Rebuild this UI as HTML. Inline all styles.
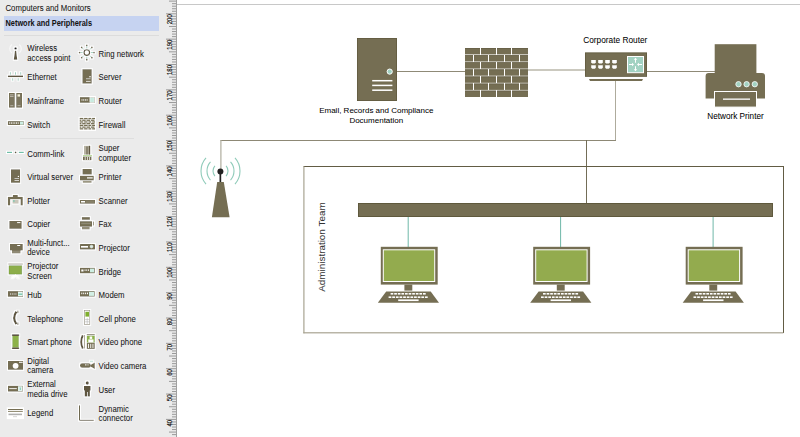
<!DOCTYPE html>
<html><head><meta charset="utf-8"><style>
html,body{margin:0;padding:0;width:800px;height:437px;overflow:hidden;background:#fff}
svg{display:block;font-family:"Liberation Sans",sans-serif}
</style></head><body>
<svg width="800" height="437" viewBox="0 0 800 437">
<defs><filter id="halo" x="-5%" y="-5%" width="110%" height="110%"><feMorphology in="SourceAlpha" operator="dilate" radius="0.9" result="d"/><feFlood flood-color="#ffffff"/><feComposite in2="d" operator="in" result="w"/><feMerge><feMergeNode in="w"/><feMergeNode in="SourceGraphic"/></feMerge></filter></defs>
<rect x="0" y="0" width="166" height="437" fill="#ebebeb"/>
<rect x="4" y="16" width="155" height="15" fill="#c6d3f1"/>
<rect x="4" y="35" width="155" height="1" fill="#dcdcdc"/>
<rect x="20" y="138" width="114" height="1" fill="#dedede"/>
<text transform="translate(5.5,11.4) scale(0.885,1)" font-size="8.8" fill="#141414" stroke="#141414" stroke-width="0.04" font-weight="normal">Computers and Monitors</text>
<text transform="translate(5.5,26.2) scale(0.84,1)" font-size="8.8" fill="#141414" stroke="#141414" stroke-width="0.04" font-weight="bold">Network and Peripherals</text>
<text transform="translate(27.3,51.2) scale(0.885,1)" font-size="8.8" fill="#141414" stroke="#141414" stroke-width="0.04" font-weight="normal">Wireless</text><text transform="translate(27.3,60.6) scale(0.885,1)" font-size="8.8" fill="#141414" stroke="#141414" stroke-width="0.04" font-weight="normal">access point</text>
<text transform="translate(98.6,56.5) scale(0.885,1)" font-size="8.8" fill="#141414" stroke="#141414" stroke-width="0.04" font-weight="normal">Ring network</text>
<text transform="translate(27.3,80.4) scale(0.885,1)" font-size="8.8" fill="#141414" stroke="#141414" stroke-width="0.04" font-weight="normal">Ethernet</text>
<text transform="translate(98.6,80.4) scale(0.885,1)" font-size="8.8" fill="#141414" stroke="#141414" stroke-width="0.04" font-weight="normal">Server</text>
<text transform="translate(27.3,104.2) scale(0.885,1)" font-size="8.8" fill="#141414" stroke="#141414" stroke-width="0.04" font-weight="normal">Mainframe</text>
<text transform="translate(98.6,104.2) scale(0.885,1)" font-size="8.8" fill="#141414" stroke="#141414" stroke-width="0.04" font-weight="normal">Router</text>
<text transform="translate(27.3,127.6) scale(0.885,1)" font-size="8.8" fill="#141414" stroke="#141414" stroke-width="0.04" font-weight="normal">Switch</text>
<text transform="translate(98.6,127.6) scale(0.885,1)" font-size="8.8" fill="#141414" stroke="#141414" stroke-width="0.04" font-weight="normal">Firewall</text>
<text transform="translate(27.3,156.6) scale(0.885,1)" font-size="8.8" fill="#141414" stroke="#141414" stroke-width="0.04" font-weight="normal">Comm-link</text>
<text transform="translate(98.6,151.3) scale(0.885,1)" font-size="8.8" fill="#141414" stroke="#141414" stroke-width="0.04" font-weight="normal">Super</text><text transform="translate(98.6,160.7) scale(0.885,1)" font-size="8.8" fill="#141414" stroke="#141414" stroke-width="0.04" font-weight="normal">computer</text>
<text transform="translate(27.3,180.2) scale(0.885,1)" font-size="8.8" fill="#141414" stroke="#141414" stroke-width="0.04" font-weight="normal">Virtual server</text>
<text transform="translate(98.6,180.2) scale(0.885,1)" font-size="8.8" fill="#141414" stroke="#141414" stroke-width="0.04" font-weight="normal">Printer</text>
<text transform="translate(27.3,203.8) scale(0.885,1)" font-size="8.8" fill="#141414" stroke="#141414" stroke-width="0.04" font-weight="normal">Plotter</text>
<text transform="translate(98.6,203.8) scale(0.885,1)" font-size="8.8" fill="#141414" stroke="#141414" stroke-width="0.04" font-weight="normal">Scanner</text>
<text transform="translate(27.3,227.4) scale(0.885,1)" font-size="8.8" fill="#141414" stroke="#141414" stroke-width="0.04" font-weight="normal">Copier</text>
<text transform="translate(98.6,227.4) scale(0.885,1)" font-size="8.8" fill="#141414" stroke="#141414" stroke-width="0.04" font-weight="normal">Fax</text>
<text transform="translate(27.3,245.8) scale(0.885,1)" font-size="8.8" fill="#141414" stroke="#141414" stroke-width="0.04" font-weight="normal">Multi-funct...</text><text transform="translate(27.3,255.1) scale(0.885,1)" font-size="8.8" fill="#141414" stroke="#141414" stroke-width="0.04" font-weight="normal">device</text>
<text transform="translate(98.6,251.0) scale(0.885,1)" font-size="8.8" fill="#141414" stroke="#141414" stroke-width="0.04" font-weight="normal">Projector</text>
<text transform="translate(27.3,269.3) scale(0.885,1)" font-size="8.8" fill="#141414" stroke="#141414" stroke-width="0.04" font-weight="normal">Projector</text><text transform="translate(27.3,278.7) scale(0.885,1)" font-size="8.8" fill="#141414" stroke="#141414" stroke-width="0.04" font-weight="normal">Screen</text>
<text transform="translate(98.6,274.6) scale(0.885,1)" font-size="8.8" fill="#141414" stroke="#141414" stroke-width="0.04" font-weight="normal">Bridge</text>
<text transform="translate(27.3,298.2) scale(0.885,1)" font-size="8.8" fill="#141414" stroke="#141414" stroke-width="0.04" font-weight="normal">Hub</text>
<text transform="translate(98.6,298.2) scale(0.885,1)" font-size="8.8" fill="#141414" stroke="#141414" stroke-width="0.04" font-weight="normal">Modem</text>
<text transform="translate(27.3,321.8) scale(0.885,1)" font-size="8.8" fill="#141414" stroke="#141414" stroke-width="0.04" font-weight="normal">Telephone</text>
<text transform="translate(98.6,321.8) scale(0.885,1)" font-size="8.8" fill="#141414" stroke="#141414" stroke-width="0.04" font-weight="normal">Cell phone</text>
<text transform="translate(27.3,345.4) scale(0.885,1)" font-size="8.8" fill="#141414" stroke="#141414" stroke-width="0.04" font-weight="normal">Smart phone</text>
<text transform="translate(98.6,345.4) scale(0.885,1)" font-size="8.8" fill="#141414" stroke="#141414" stroke-width="0.04" font-weight="normal">Video phone</text>
<text transform="translate(27.3,363.8) scale(0.885,1)" font-size="8.8" fill="#141414" stroke="#141414" stroke-width="0.04" font-weight="normal">Digital</text><text transform="translate(27.3,373.1) scale(0.885,1)" font-size="8.8" fill="#141414" stroke="#141414" stroke-width="0.04" font-weight="normal">camera</text>
<text transform="translate(98.6,369.0) scale(0.885,1)" font-size="8.8" fill="#141414" stroke="#141414" stroke-width="0.04" font-weight="normal">Video camera</text>
<text transform="translate(27.3,387.3) scale(0.885,1)" font-size="8.8" fill="#141414" stroke="#141414" stroke-width="0.04" font-weight="normal">External</text><text transform="translate(27.3,396.7) scale(0.885,1)" font-size="8.8" fill="#141414" stroke="#141414" stroke-width="0.04" font-weight="normal">media drive</text>
<text transform="translate(98.6,392.6) scale(0.885,1)" font-size="8.8" fill="#141414" stroke="#141414" stroke-width="0.04" font-weight="normal">User</text>
<text transform="translate(27.3,416.2) scale(0.885,1)" font-size="8.8" fill="#141414" stroke="#141414" stroke-width="0.04" font-weight="normal">Legend</text>
<text transform="translate(98.6,411.8) scale(0.885,1)" font-size="8.8" fill="#141414" stroke="#141414" stroke-width="0.04" font-weight="normal">Dynamic</text><text transform="translate(98.6,420.8) scale(0.885,1)" font-size="8.8" fill="#141414" stroke="#141414" stroke-width="0.04" font-weight="normal">connector</text>
<path d="M11.8 53 A5.5 5.5 0 0 1 11.8 44.5 M19.3 44.5 A5.5 5.5 0 0 1 19.3 53" stroke="#f8f8f8" stroke-width="1.2" fill="none"/><g filter="url(#halo)"><path d="M14.9 50.8 H16.2 L17.3 59.8 H13.8 Z" fill="#5e573f"/>
<circle cx="15.56" cy="48.4" r="1.2" fill="#1e1e1e"/>
<path d="M91.00 52.55 L93.10 52.55" stroke="#a2d2c2" stroke-width="1"/>
<circle cx="94.00" cy="52.55" r="0.9" fill="#756e53"/>
<path d="M89.77 55.52 L91.25 57.00" stroke="#a2d2c2" stroke-width="1"/>
<circle cx="91.89" cy="57.64" r="0.9" fill="#756e53"/>
<path d="M86.80 56.75 L86.80 58.85" stroke="#a2d2c2" stroke-width="1"/>
<circle cx="86.80" cy="59.75" r="0.9" fill="#756e53"/>
<path d="M83.83 55.52 L82.35 57.00" stroke="#a2d2c2" stroke-width="1"/>
<circle cx="81.71" cy="57.64" r="0.9" fill="#756e53"/>
<path d="M82.60 52.55 L80.50 52.55" stroke="#a2d2c2" stroke-width="1"/>
<circle cx="79.60" cy="52.55" r="0.9" fill="#756e53"/>
<path d="M83.83 49.58 L82.35 48.10" stroke="#a2d2c2" stroke-width="1"/>
<circle cx="81.71" cy="47.46" r="0.9" fill="#756e53"/>
<path d="M86.80 48.35 L86.80 46.25" stroke="#a2d2c2" stroke-width="1"/>
<circle cx="86.80" cy="45.35" r="0.9" fill="#756e53"/>
<path d="M89.77 49.58 L91.25 48.10" stroke="#a2d2c2" stroke-width="1"/>
<circle cx="91.89" cy="47.46" r="0.9" fill="#756e53"/>
<circle cx="86.8" cy="52.55" r="2.8" fill="#fff" stroke="#5e573f" stroke-width="1.2"/>
<rect x="7.9" y="75.5" width="15.1" height="1.6" fill="#5e573f"/>
<rect x="9.9" y="72.2" width="1" height="2.5" fill="#a2d2c2"/>
<rect x="15.0" y="72.2" width="1" height="2.5" fill="#a2d2c2"/>
<rect x="20.2" y="72.2" width="1" height="2.5" fill="#a2d2c2"/>
<rect x="12.2" y="78.2" width="1" height="2.5" fill="#a2d2c2"/>
<rect x="17.7" y="78.2" width="1" height="2.5" fill="#a2d2c2"/>
<rect x="82.4" y="69.2" width="9.35" height="14.4" fill="#756e53"/>
<circle cx="90" cy="76.7" r="0.8" fill="#fff"/>
<rect x="86" y="78.4" width="4.6" height="0.8" fill="#ddd"/>
<rect x="86" y="80.9" width="4.6" height="0.8" fill="#fff"/>
<rect x="9" y="93" width="5.8" height="14.7" fill="#756e53"/>
<rect x="9.8" y="94" width="4.2" height="12.7" fill="#7c7660"/>
<rect x="10.3" y="105" width="3" height="1.2" fill="#aaa69a"/>
<rect x="16.2" y="93" width="5.8" height="14.7" fill="#756e53"/>
<rect x="17.0" y="94" width="4.2" height="12.7" fill="#7c7660"/>
<rect x="17.5" y="105" width="3" height="1.2" fill="#aaa69a"/>
<rect x="10" y="94.5" width="3.5" height="0.8" fill="#c8c4b8"/>
<rect x="10" y="96" width="3.5" height="0.8" fill="#c8c4b8"/>
<rect x="17.5" y="94.3" width="2.5" height="2.3" fill="#f4f0d8"/>
<rect x="79.9" y="97.1" width="14.8" height="5.7" fill="#756e53"/>
<rect x="89.9" y="97.6" width="4.3" height="4.7" fill="#c8ebe0" stroke="#fff" stroke-width="0.6"/>
<rect x="81.5" y="99.3" width="1" height="1.3" fill="#fff"/>
<rect x="83.2" y="99.3" width="1" height="1.3" fill="#fff"/>
<rect x="84.9" y="99.3" width="1" height="1.3" fill="#fff"/>
<rect x="86.6" y="99.3" width="1" height="1.3" fill="#fff"/>
<rect x="7.9" y="121.1" width="15.8" height="3.9" fill="#756e53"/>
<rect x="20" y="121.5" width="3.3" height="3.2" fill="#cdeee3"/>
<rect x="9.2" y="122.4" width="1" height="1.3" fill="#fff"/>
<rect x="10.9" y="122.4" width="1" height="1.3" fill="#fff"/>
<rect x="12.6" y="122.4" width="1" height="1.3" fill="#fff"/>
<rect x="14.3" y="122.4" width="1" height="1.3" fill="#fff"/>
<rect x="16" y="122.4" width="1" height="1.3" fill="#fff"/>
<rect x="17.7" y="122.4" width="1" height="1.3" fill="#fff"/>
<rect x="79.7" y="117.9" width="15.3" height="11.9" fill="#fff"/>
<rect x="79.7" y="117.90" width="3.60" height="1.25" fill="#756e53"/>
<rect x="84.1" y="117.90" width="3.50" height="1.25" fill="#756e53"/>
<rect x="88.4" y="117.90" width="2.90" height="1.25" fill="#756e53"/>
<rect x="92.1" y="117.90" width="2.90" height="1.25" fill="#756e53"/>
<rect x="79.7" y="119.62" width="1.70" height="1.25" fill="#756e53"/>
<rect x="82.2" y="119.62" width="3.50" height="1.25" fill="#756e53"/>
<rect x="86.5" y="119.62" width="3.50" height="1.25" fill="#756e53"/>
<rect x="90.8" y="119.62" width="3.20" height="1.25" fill="#756e53"/>
<rect x="94.5" y="119.62" width="0.50" height="1.25" fill="#756e53"/>
<rect x="79.7" y="121.34" width="3.60" height="1.25" fill="#756e53"/>
<rect x="84.1" y="121.34" width="3.50" height="1.25" fill="#756e53"/>
<rect x="88.4" y="121.34" width="2.90" height="1.25" fill="#756e53"/>
<rect x="92.1" y="121.34" width="2.90" height="1.25" fill="#756e53"/>
<rect x="79.7" y="123.06" width="1.70" height="1.25" fill="#756e53"/>
<rect x="82.2" y="123.06" width="3.50" height="1.25" fill="#756e53"/>
<rect x="86.5" y="123.06" width="3.50" height="1.25" fill="#756e53"/>
<rect x="90.8" y="123.06" width="3.20" height="1.25" fill="#756e53"/>
<rect x="94.5" y="123.06" width="0.50" height="1.25" fill="#756e53"/>
<rect x="79.7" y="124.78" width="3.60" height="1.25" fill="#756e53"/>
<rect x="84.1" y="124.78" width="3.50" height="1.25" fill="#756e53"/>
<rect x="88.4" y="124.78" width="2.90" height="1.25" fill="#756e53"/>
<rect x="92.1" y="124.78" width="2.90" height="1.25" fill="#756e53"/>
<rect x="79.7" y="126.50" width="1.70" height="1.25" fill="#756e53"/>
<rect x="82.2" y="126.50" width="3.50" height="1.25" fill="#756e53"/>
<rect x="86.5" y="126.50" width="3.50" height="1.25" fill="#756e53"/>
<rect x="90.8" y="126.50" width="3.20" height="1.25" fill="#756e53"/>
<rect x="94.5" y="126.50" width="0.50" height="1.25" fill="#756e53"/>
<rect x="79.7" y="128.22" width="3.60" height="1.25" fill="#756e53"/>
<rect x="84.1" y="128.22" width="3.50" height="1.25" fill="#756e53"/>
<rect x="88.4" y="128.22" width="2.90" height="1.25" fill="#756e53"/>
<rect x="92.1" y="128.22" width="2.90" height="1.25" fill="#756e53"/>
<path d="M7 152.4 H12 M18.8 152.4 H23.8" stroke="#6fbfa8" stroke-width="1.1"/>
<circle cx="15.6" cy="152.4" r="0.9" fill="#5e573f"/>
<rect x="84" y="145.8" width="6.3" height="8.8" fill="#b8b4a4"/>
<rect x="86.5" y="146.5" width="1" height="8" fill="#5e573f"/>
<rect x="88.8" y="145.8" width="1.3" height="8.8" fill="#5e573f"/>
<rect x="83" y="155.3" width="9" height="1" fill="#9ccf60"/>
<rect x="83" y="156.6" width="8.5" height="3.6" fill="#756e53"/>
<rect x="84.8" y="156.8" width="0.7" height="3.4" fill="#fff"/>
<rect x="87" y="156.8" width="0.7" height="3.4" fill="#fff"/>
<rect x="89.2" y="156.8" width="0.7" height="3.4" fill="#fff"/>
<rect x="11" y="169.3" width="9.1" height="13.5" fill="#756e53"/>
<circle cx="18.4" cy="176.4" r="0.7" fill="#fff"/>
<rect x="14.5" y="178" width="4.5" height="0.8" fill="#ddd"/>
<rect x="14.5" y="180.1" width="4.5" height="0.8" fill="#eee"/>
<rect x="82.5" y="169" width="9.3" height="5.5" fill="#756e53"/>
<rect x="80" y="175.8" width="13.8" height="4.6" fill="#756e53"/>
<rect x="87" y="177.3" width="5.7" height="1.2" fill="#fff"/>
<rect x="82.8" y="180.8" width="8.8" height="2" fill="#9c9782"/>
<rect x="12.9" y="195" width="4.9" height="2" fill="#756e53"/>
<rect x="7.9" y="196.9" width="14.9" height="2.3" fill="#756e53"/>
<rect x="7.9" y="199" width="2.3" height="6.4" fill="#756e53"/>
<rect x="20.6" y="199" width="2.2" height="6.4" fill="#756e53"/>
<rect x="12.5" y="199.8" width="6.1" height="3.8" fill="#c9c6ba"/>
<rect x="13.2" y="200.3" width="1.4" height="1.4" fill="#6ec8b0"/>
<rect x="79.9" y="200" width="15.1" height="3.7" fill="#756e53"/>
<rect x="81" y="201" width="4" height="1.5" fill="#fff"/>
<rect x="85.5" y="200.5" width="9" height="2.7" fill="#857f68"/>
<rect x="9.3" y="221" width="12.4" height="7.8" fill="#756e53"/>
<rect x="17.1" y="222.1" width="3.3" height="1" fill="#fff"/>
<rect x="81.9" y="217.1" width="8" height="2.7" fill="#756e53"/>
<rect x="79.9" y="221.2" width="12.1" height="5.5" fill="#756e53"/>
<rect x="81.2" y="222.8" width="9.6" height="1.4" fill="#8f8a74"/>
<rect x="82" y="226.7" width="7.7" height="2.7" fill="#938e78"/>
<rect x="93" y="221.5" width="0.9" height="4" fill="#8f8a74"/>
<rect x="10" y="244" width="12.8" height="6.4" fill="#756e53"/>
<rect x="17.2" y="245" width="3" height="1" fill="#fff"/>
<rect x="12" y="250.2" width="8.5" height="3.2" fill="#8f8a74"/>
<rect x="12" y="250.2" width="8.5" height="0.8" fill="#756e53"/>
<rect x="79.9" y="243.9" width="15.1" height="5.7" rx="0.6" fill="#756e53"/>
<rect x="81" y="246" width="7" height="1.6" fill="#fff"/>
<circle cx="91.5" cy="246.6" r="1.4" fill="#d6f0e8" stroke="#fff" stroke-width="0.5"/>
<rect x="8.3" y="263.3" width="14.5" height="1.5" fill="#c7c5bb"/>
<rect x="9" y="265.8" width="12.8" height="8.3" fill="#8dae4c" stroke="#6f9a2a" stroke-width="0.6"/>
<path d="M15.4 274.5 L12 278.5 M15.4 274.5 L18.8 278.5" stroke="#fff" stroke-width="1"/>
<rect x="80" y="267.8" width="14.8" height="5.5" fill="#756e53"/>
<rect x="90" y="268.6" width="4" height="3.8" fill="#cdeee3"/>
<rect x="81.3" y="269.5" width="2.2" height="2" fill="#fff"/>
<rect x="84.6" y="269.4" width="0.9" height="1.5" fill="#fff"/>
<rect x="86.3" y="269.4" width="0.9" height="1.5" fill="#fff"/>
<rect x="88" y="269.4" width="0.9" height="1.5" fill="#fff"/>
<rect x="7.9" y="291.1" width="15.1" height="5.7" fill="#756e53"/>
<rect x="18" y="291.6" width="4.8" height="4.7" fill="#e8f6f1"/>
<rect x="18.5" y="293.5" width="3.8" height="1.4" fill="#7cc9b2"/>
<rect x="10" y="293.4" width="1" height="1.2" fill="#ddd"/>
<rect x="11.8" y="293.4" width="1" height="1.2" fill="#ddd"/>
<rect x="13.6" y="293.4" width="1" height="1.2" fill="#ddd"/>
<rect x="15.4" y="293.4" width="1" height="1.2" fill="#ddd"/>
<rect x="79.9" y="291.1" width="14.8" height="5.5" fill="#756e53"/>
<rect x="89" y="291.8" width="5" height="4.1" fill="#d3f0e6"/>
<rect x="81.3" y="292.6" width="1" height="1.6" fill="#fff"/>
<rect x="83.2" y="292.6" width="1" height="1.6" fill="#fff"/>
<rect x="85.1" y="292.6" width="1" height="1.6" fill="#fff"/>
<rect x="87" y="292.6" width="1" height="1.6" fill="#fff"/>
<path d="M16.4 311.6 Q12 317.8 16.4 324.2" stroke="#5e573f" stroke-width="2.3" fill="none"/>
<rect x="17.2" y="310.6" width="1.3" height="2.6" fill="#9a9585"/>
<rect x="17.2" y="322.5" width="1.3" height="2.4" fill="#9a9585"/>
<rect x="84.6" y="310.6" width="5.2" height="14" fill="#fff" stroke="#9a9585" stroke-width="0.7"/>
<rect x="85.4" y="311.8" width="3.6" height="4.8" fill="#7fae2e"/>
<path d="M85 319.6 H89.4 M85 321.8 H89.4 M87.2 318 V324" stroke="#aaa" stroke-width="0.5"/>
<rect x="11.8" y="334.3" width="7.5" height="1.7" rx="0.8" fill="#5e573f"/>
<rect x="12.3" y="336" width="6.5" height="11.8" fill="#8db24a"/>
<rect x="11.8" y="347.5" width="7.5" height="1.6" rx="0.8" fill="#5e573f"/>
<path d="M82.8 335.2 Q79.6 341.8 82.8 348.6" stroke="#5e573f" stroke-width="2" fill="none"/>
<rect x="84" y="335" width="1" height="13.5" fill="#b0ac9c"/>
<rect x="86.8" y="334.2" width="8" height="0.9" fill="#756e53"/>
<rect x="86.8" y="335.6" width="8" height="7" fill="#8db24a"/>
<rect x="89.6" y="336.5" width="2.6" height="2.4" fill="#fff"/>
<rect x="88.3" y="339.4" width="5.2" height="3.2" fill="#fff"/>
<rect x="86.8" y="342.8" width="8" height="6.1" fill="#756e53"/>
<rect x="88.1" y="343.8" width="0.9" height="4.2" fill="#fff"/>
<rect x="90.3" y="343.8" width="0.9" height="4.2" fill="#fff"/>
<rect x="92.5" y="343.8" width="0.9" height="4.2" fill="#fff"/>
<rect x="8" y="361" width="15.1" height="8.8" fill="#756e53"/>
<circle cx="15.6" cy="365.8" r="2.9" fill="#fff"/>
<rect x="19" y="361.8" width="3.7" height="1" fill="#fff"/>
<rect x="80" y="363.3" width="10.8" height="4.5" rx="2" fill="#756e53"/>
<path d="M90.4 365 L94.8 362.6 V369 L90.4 366.5 Z" fill="#756e53"/>
<rect x="85" y="364.4" width="1.5" height="1" fill="#fff"/>
<rect x="87.5" y="364.4" width="1" height="1" fill="#fff"/>
<rect x="90" y="360.8" width="3" height="1" fill="#bfe3d8"/>
<rect x="8" y="385.8" width="14.8" height="5.8" fill="#756e53"/>
<rect x="18" y="386.2" width="4.5" height="5" fill="#e3f3ee"/>
<rect x="19.8" y="387.5" width="1" height="2.5" fill="#7cc9b2"/>
<rect x="9.2" y="388.2" width="7.6" height="0.9" fill="#fff"/>
<ellipse cx="87.3" cy="383" rx="1.6" ry="1.8" fill="#5e573f"/>
<path d="M84 386 H90.6 V390.5 H89.9 V396.6 H87.6 V392 H87 V396.6 H84.7 V390.5 H84 Z" fill="#5e573f"/>
<rect x="7.8" y="408.3" width="15.2" height="9.8" fill="#fff"/>
<rect x="8" y="409" width="14.8" height="1" fill="#756e53"/>
<rect x="8" y="410.9" width="14.8" height="1" fill="#8a846a"/>
<rect x="8.5" y="413.6" width="13.5" height="1.6" fill="#b0b0b0"/>
<rect x="13" y="416.5" width="4" height="0.6" fill="#bbb"/>
<path d="M79.5 405.3 V420.3 H93.8" stroke="#6e6850" stroke-width="1" fill="none"/></g>
<rect x="166" y="0" width="11" height="437" fill="#ebebeb"/>
<rect x="176" y="0" width="1" height="437" fill="#a0a0a0"/>
<rect x="169" y="0.62" width="7" height="1" fill="#9a9a9a"/>
<rect x="172" y="3.16" width="4" height="1" fill="#9a9a9a"/>
<rect x="172" y="5.70" width="4" height="1" fill="#9a9a9a"/>
<rect x="172" y="8.23" width="4" height="1" fill="#9a9a9a"/>
<rect x="172" y="10.77" width="4" height="1" fill="#9a9a9a"/>
<rect x="166" y="13.30" width="10" height="1" fill="#9a9a9a"/>
<rect x="172" y="15.84" width="4" height="1" fill="#9a9a9a"/>
<rect x="172" y="18.37" width="4" height="1" fill="#9a9a9a"/>
<rect x="172" y="20.91" width="4" height="1" fill="#9a9a9a"/>
<rect x="172" y="23.44" width="4" height="1" fill="#9a9a9a"/>
<rect x="169" y="25.98" width="7" height="1" fill="#9a9a9a"/>
<rect x="172" y="28.51" width="4" height="1" fill="#9a9a9a"/>
<rect x="172" y="31.05" width="4" height="1" fill="#9a9a9a"/>
<rect x="172" y="33.58" width="4" height="1" fill="#9a9a9a"/>
<rect x="172" y="36.12" width="4" height="1" fill="#9a9a9a"/>
<rect x="166" y="38.65" width="10" height="1" fill="#9a9a9a"/>
<rect x="172" y="41.19" width="4" height="1" fill="#9a9a9a"/>
<rect x="172" y="43.72" width="4" height="1" fill="#9a9a9a"/>
<rect x="172" y="46.25" width="4" height="1" fill="#9a9a9a"/>
<rect x="172" y="48.79" width="4" height="1" fill="#9a9a9a"/>
<rect x="169" y="51.33" width="7" height="1" fill="#9a9a9a"/>
<rect x="172" y="53.86" width="4" height="1" fill="#9a9a9a"/>
<rect x="172" y="56.39" width="4" height="1" fill="#9a9a9a"/>
<rect x="172" y="58.93" width="4" height="1" fill="#9a9a9a"/>
<rect x="172" y="61.47" width="4" height="1" fill="#9a9a9a"/>
<rect x="166" y="64.00" width="10" height="1" fill="#9a9a9a"/>
<rect x="172" y="66.53" width="4" height="1" fill="#9a9a9a"/>
<rect x="172" y="69.07" width="4" height="1" fill="#9a9a9a"/>
<rect x="172" y="71.61" width="4" height="1" fill="#9a9a9a"/>
<rect x="172" y="74.14" width="4" height="1" fill="#9a9a9a"/>
<rect x="169" y="76.67" width="7" height="1" fill="#9a9a9a"/>
<rect x="172" y="79.21" width="4" height="1" fill="#9a9a9a"/>
<rect x="172" y="81.75" width="4" height="1" fill="#9a9a9a"/>
<rect x="172" y="84.28" width="4" height="1" fill="#9a9a9a"/>
<rect x="172" y="86.81" width="4" height="1" fill="#9a9a9a"/>
<rect x="166" y="89.35" width="10" height="1" fill="#9a9a9a"/>
<rect x="172" y="91.89" width="4" height="1" fill="#9a9a9a"/>
<rect x="172" y="94.42" width="4" height="1" fill="#9a9a9a"/>
<rect x="172" y="96.95" width="4" height="1" fill="#9a9a9a"/>
<rect x="172" y="99.49" width="4" height="1" fill="#9a9a9a"/>
<rect x="169" y="102.03" width="7" height="1" fill="#9a9a9a"/>
<rect x="172" y="104.56" width="4" height="1" fill="#9a9a9a"/>
<rect x="172" y="107.09" width="4" height="1" fill="#9a9a9a"/>
<rect x="172" y="109.63" width="4" height="1" fill="#9a9a9a"/>
<rect x="172" y="112.17" width="4" height="1" fill="#9a9a9a"/>
<rect x="166" y="114.70" width="10" height="1" fill="#9a9a9a"/>
<rect x="172" y="117.23" width="4" height="1" fill="#9a9a9a"/>
<rect x="172" y="119.77" width="4" height="1" fill="#9a9a9a"/>
<rect x="172" y="122.31" width="4" height="1" fill="#9a9a9a"/>
<rect x="172" y="124.84" width="4" height="1" fill="#9a9a9a"/>
<rect x="169" y="127.38" width="7" height="1" fill="#9a9a9a"/>
<rect x="172" y="129.91" width="4" height="1" fill="#9a9a9a"/>
<rect x="172" y="132.45" width="4" height="1" fill="#9a9a9a"/>
<rect x="172" y="134.98" width="4" height="1" fill="#9a9a9a"/>
<rect x="172" y="137.52" width="4" height="1" fill="#9a9a9a"/>
<rect x="166" y="140.05" width="10" height="1" fill="#9a9a9a"/>
<rect x="172" y="142.59" width="4" height="1" fill="#9a9a9a"/>
<rect x="172" y="145.12" width="4" height="1" fill="#9a9a9a"/>
<rect x="172" y="147.66" width="4" height="1" fill="#9a9a9a"/>
<rect x="172" y="150.19" width="4" height="1" fill="#9a9a9a"/>
<rect x="169" y="152.73" width="7" height="1" fill="#9a9a9a"/>
<rect x="172" y="155.26" width="4" height="1" fill="#9a9a9a"/>
<rect x="172" y="157.80" width="4" height="1" fill="#9a9a9a"/>
<rect x="172" y="160.33" width="4" height="1" fill="#9a9a9a"/>
<rect x="172" y="162.87" width="4" height="1" fill="#9a9a9a"/>
<rect x="166" y="165.40" width="10" height="1" fill="#9a9a9a"/>
<rect x="172" y="167.94" width="4" height="1" fill="#9a9a9a"/>
<rect x="172" y="170.47" width="4" height="1" fill="#9a9a9a"/>
<rect x="172" y="173.01" width="4" height="1" fill="#9a9a9a"/>
<rect x="172" y="175.54" width="4" height="1" fill="#9a9a9a"/>
<rect x="169" y="178.08" width="7" height="1" fill="#9a9a9a"/>
<rect x="172" y="180.61" width="4" height="1" fill="#9a9a9a"/>
<rect x="172" y="183.15" width="4" height="1" fill="#9a9a9a"/>
<rect x="172" y="185.68" width="4" height="1" fill="#9a9a9a"/>
<rect x="172" y="188.22" width="4" height="1" fill="#9a9a9a"/>
<rect x="166" y="190.75" width="10" height="1" fill="#9a9a9a"/>
<rect x="172" y="193.29" width="4" height="1" fill="#9a9a9a"/>
<rect x="172" y="195.82" width="4" height="1" fill="#9a9a9a"/>
<rect x="172" y="198.36" width="4" height="1" fill="#9a9a9a"/>
<rect x="172" y="200.89" width="4" height="1" fill="#9a9a9a"/>
<rect x="169" y="203.43" width="7" height="1" fill="#9a9a9a"/>
<rect x="172" y="205.96" width="4" height="1" fill="#9a9a9a"/>
<rect x="172" y="208.50" width="4" height="1" fill="#9a9a9a"/>
<rect x="172" y="211.03" width="4" height="1" fill="#9a9a9a"/>
<rect x="172" y="213.57" width="4" height="1" fill="#9a9a9a"/>
<rect x="166" y="216.10" width="10" height="1" fill="#9a9a9a"/>
<rect x="172" y="218.64" width="4" height="1" fill="#9a9a9a"/>
<rect x="172" y="221.17" width="4" height="1" fill="#9a9a9a"/>
<rect x="172" y="223.71" width="4" height="1" fill="#9a9a9a"/>
<rect x="172" y="226.24" width="4" height="1" fill="#9a9a9a"/>
<rect x="169" y="228.78" width="7" height="1" fill="#9a9a9a"/>
<rect x="172" y="231.31" width="4" height="1" fill="#9a9a9a"/>
<rect x="172" y="233.85" width="4" height="1" fill="#9a9a9a"/>
<rect x="172" y="236.38" width="4" height="1" fill="#9a9a9a"/>
<rect x="172" y="238.92" width="4" height="1" fill="#9a9a9a"/>
<rect x="166" y="241.45" width="10" height="1" fill="#9a9a9a"/>
<rect x="172" y="243.99" width="4" height="1" fill="#9a9a9a"/>
<rect x="172" y="246.52" width="4" height="1" fill="#9a9a9a"/>
<rect x="172" y="249.06" width="4" height="1" fill="#9a9a9a"/>
<rect x="172" y="251.59" width="4" height="1" fill="#9a9a9a"/>
<rect x="169" y="254.13" width="7" height="1" fill="#9a9a9a"/>
<rect x="172" y="256.66" width="4" height="1" fill="#9a9a9a"/>
<rect x="172" y="259.19" width="4" height="1" fill="#9a9a9a"/>
<rect x="172" y="261.73" width="4" height="1" fill="#9a9a9a"/>
<rect x="172" y="264.26" width="4" height="1" fill="#9a9a9a"/>
<rect x="166" y="266.80" width="10" height="1" fill="#9a9a9a"/>
<rect x="172" y="269.34" width="4" height="1" fill="#9a9a9a"/>
<rect x="172" y="271.87" width="4" height="1" fill="#9a9a9a"/>
<rect x="172" y="274.41" width="4" height="1" fill="#9a9a9a"/>
<rect x="172" y="276.94" width="4" height="1" fill="#9a9a9a"/>
<rect x="169" y="279.48" width="7" height="1" fill="#9a9a9a"/>
<rect x="172" y="282.01" width="4" height="1" fill="#9a9a9a"/>
<rect x="172" y="284.55" width="4" height="1" fill="#9a9a9a"/>
<rect x="172" y="287.08" width="4" height="1" fill="#9a9a9a"/>
<rect x="172" y="289.62" width="4" height="1" fill="#9a9a9a"/>
<rect x="166" y="292.15" width="10" height="1" fill="#9a9a9a"/>
<rect x="172" y="294.69" width="4" height="1" fill="#9a9a9a"/>
<rect x="172" y="297.22" width="4" height="1" fill="#9a9a9a"/>
<rect x="172" y="299.76" width="4" height="1" fill="#9a9a9a"/>
<rect x="172" y="302.29" width="4" height="1" fill="#9a9a9a"/>
<rect x="169" y="304.83" width="7" height="1" fill="#9a9a9a"/>
<rect x="172" y="307.36" width="4" height="1" fill="#9a9a9a"/>
<rect x="172" y="309.90" width="4" height="1" fill="#9a9a9a"/>
<rect x="172" y="312.43" width="4" height="1" fill="#9a9a9a"/>
<rect x="172" y="314.97" width="4" height="1" fill="#9a9a9a"/>
<rect x="166" y="317.50" width="10" height="1" fill="#9a9a9a"/>
<rect x="172" y="320.04" width="4" height="1" fill="#9a9a9a"/>
<rect x="172" y="322.57" width="4" height="1" fill="#9a9a9a"/>
<rect x="172" y="325.11" width="4" height="1" fill="#9a9a9a"/>
<rect x="172" y="327.64" width="4" height="1" fill="#9a9a9a"/>
<rect x="169" y="330.18" width="7" height="1" fill="#9a9a9a"/>
<rect x="172" y="332.71" width="4" height="1" fill="#9a9a9a"/>
<rect x="172" y="335.25" width="4" height="1" fill="#9a9a9a"/>
<rect x="172" y="337.78" width="4" height="1" fill="#9a9a9a"/>
<rect x="172" y="340.32" width="4" height="1" fill="#9a9a9a"/>
<rect x="166" y="342.85" width="10" height="1" fill="#9a9a9a"/>
<rect x="172" y="345.39" width="4" height="1" fill="#9a9a9a"/>
<rect x="172" y="347.92" width="4" height="1" fill="#9a9a9a"/>
<rect x="172" y="350.46" width="4" height="1" fill="#9a9a9a"/>
<rect x="172" y="352.99" width="4" height="1" fill="#9a9a9a"/>
<rect x="169" y="355.53" width="7" height="1" fill="#9a9a9a"/>
<rect x="172" y="358.06" width="4" height="1" fill="#9a9a9a"/>
<rect x="172" y="360.60" width="4" height="1" fill="#9a9a9a"/>
<rect x="172" y="363.13" width="4" height="1" fill="#9a9a9a"/>
<rect x="172" y="365.67" width="4" height="1" fill="#9a9a9a"/>
<rect x="166" y="368.20" width="10" height="1" fill="#9a9a9a"/>
<rect x="172" y="370.74" width="4" height="1" fill="#9a9a9a"/>
<rect x="172" y="373.27" width="4" height="1" fill="#9a9a9a"/>
<rect x="172" y="375.81" width="4" height="1" fill="#9a9a9a"/>
<rect x="172" y="378.34" width="4" height="1" fill="#9a9a9a"/>
<rect x="169" y="380.88" width="7" height="1" fill="#9a9a9a"/>
<rect x="172" y="383.41" width="4" height="1" fill="#9a9a9a"/>
<rect x="172" y="385.95" width="4" height="1" fill="#9a9a9a"/>
<rect x="172" y="388.48" width="4" height="1" fill="#9a9a9a"/>
<rect x="172" y="391.02" width="4" height="1" fill="#9a9a9a"/>
<rect x="166" y="393.55" width="10" height="1" fill="#9a9a9a"/>
<rect x="172" y="396.09" width="4" height="1" fill="#9a9a9a"/>
<rect x="172" y="398.62" width="4" height="1" fill="#9a9a9a"/>
<rect x="172" y="401.16" width="4" height="1" fill="#9a9a9a"/>
<rect x="172" y="403.69" width="4" height="1" fill="#9a9a9a"/>
<rect x="169" y="406.23" width="7" height="1" fill="#9a9a9a"/>
<rect x="172" y="408.76" width="4" height="1" fill="#9a9a9a"/>
<rect x="172" y="411.30" width="4" height="1" fill="#9a9a9a"/>
<rect x="172" y="413.83" width="4" height="1" fill="#9a9a9a"/>
<rect x="172" y="416.37" width="4" height="1" fill="#9a9a9a"/>
<rect x="166" y="418.90" width="10" height="1" fill="#9a9a9a"/>
<rect x="172" y="421.44" width="4" height="1" fill="#9a9a9a"/>
<rect x="172" y="423.97" width="4" height="1" fill="#9a9a9a"/>
<rect x="172" y="426.51" width="4" height="1" fill="#9a9a9a"/>
<rect x="172" y="429.04" width="4" height="1" fill="#9a9a9a"/>
<rect x="169" y="431.58" width="7" height="1" fill="#9a9a9a"/>
<rect x="172" y="434.11" width="4" height="1" fill="#9a9a9a"/>
<text transform="translate(172.3,14.2) rotate(-90) scale(0.92,1)" text-anchor="end" font-size="6.6" fill="#111" stroke="#111" stroke-width="0.15">200</text>
<text transform="translate(172.3,39.6) rotate(-90) scale(0.92,1)" text-anchor="end" font-size="6.6" fill="#111" stroke="#111" stroke-width="0.15">190</text>
<text transform="translate(172.3,64.9) rotate(-90) scale(0.92,1)" text-anchor="end" font-size="6.6" fill="#111" stroke="#111" stroke-width="0.15">180</text>
<text transform="translate(172.3,90.3) rotate(-90) scale(0.92,1)" text-anchor="end" font-size="6.6" fill="#111" stroke="#111" stroke-width="0.15">170</text>
<text transform="translate(172.3,115.6) rotate(-90) scale(0.92,1)" text-anchor="end" font-size="6.6" fill="#111" stroke="#111" stroke-width="0.15">160</text>
<text transform="translate(172.3,141.0) rotate(-90) scale(0.92,1)" text-anchor="end" font-size="6.6" fill="#111" stroke="#111" stroke-width="0.15">150</text>
<text transform="translate(172.3,166.3) rotate(-90) scale(0.92,1)" text-anchor="end" font-size="6.6" fill="#111" stroke="#111" stroke-width="0.15">140</text>
<text transform="translate(172.3,191.7) rotate(-90) scale(0.92,1)" text-anchor="end" font-size="6.6" fill="#111" stroke="#111" stroke-width="0.15">130</text>
<text transform="translate(172.3,217.0) rotate(-90) scale(0.92,1)" text-anchor="end" font-size="6.6" fill="#111" stroke="#111" stroke-width="0.15">120</text>
<text transform="translate(172.3,242.4) rotate(-90) scale(0.92,1)" text-anchor="end" font-size="6.6" fill="#111" stroke="#111" stroke-width="0.15">110</text>
<text transform="translate(172.3,267.7) rotate(-90) scale(0.92,1)" text-anchor="end" font-size="6.6" fill="#111" stroke="#111" stroke-width="0.15">100</text>
<text transform="translate(172.3,293.1) rotate(-90) scale(0.92,1)" text-anchor="end" font-size="6.6" fill="#111" stroke="#111" stroke-width="0.15">90</text>
<text transform="translate(172.3,318.4) rotate(-90) scale(0.92,1)" text-anchor="end" font-size="6.6" fill="#111" stroke="#111" stroke-width="0.15">80</text>
<text transform="translate(172.3,343.8) rotate(-90) scale(0.92,1)" text-anchor="end" font-size="6.6" fill="#111" stroke="#111" stroke-width="0.15">70</text>
<text transform="translate(172.3,369.1) rotate(-90) scale(0.92,1)" text-anchor="end" font-size="6.6" fill="#111" stroke="#111" stroke-width="0.15">60</text>
<text transform="translate(172.3,394.4) rotate(-90) scale(0.92,1)" text-anchor="end" font-size="6.6" fill="#111" stroke="#111" stroke-width="0.15">50</text>
<text transform="translate(172.3,419.8) rotate(-90) scale(0.92,1)" text-anchor="end" font-size="6.6" fill="#111" stroke="#111" stroke-width="0.15">40</text>
<rect x="177" y="0" width="623" height="437" fill="#ffffff"/>
<rect x="177" y="4" width="623" height="1" fill="#c8c8c8"/>
<rect x="397" y="71" width="68" height="1" fill="#8f8a77"/>
<rect x="528" y="69.4" width="57" height="1.2" fill="#a9a696"/>
<rect x="647" y="71" width="68" height="1" fill="#8f8a77"/>
<rect x="615" y="81" width="1" height="59.5" fill="#aeab9c"/>
<rect x="220.5" y="140" width="395.5" height="1" fill="#8d8875"/>
<rect x="220.3" y="140" width="1.2" height="29" fill="#b0ad9e"/>
<rect x="586" y="140" width="1" height="63" fill="#736d57"/>
<rect x="303.5" y="166" width="480.5" height="1" fill="#625c44"/>
<rect x="783" y="166" width="1" height="167" fill="#625c44"/>
<rect x="303.3" y="166.5" width="1.2" height="166.8" fill="#a8a492"/>
<rect x="303.3" y="332.2" width="480" height="1.2" fill="#a8a492"/>
<text transform="translate(324.6,291.8) rotate(-90) scale(1.1,1)" font-size="9" fill="#333" stroke="#333" stroke-width="0.05">Administration Team</text>
<rect x="358" y="203" width="415" height="14" fill="#756e53"/>
<rect x="358.4" y="203.4" width="414.2" height="13.2" fill="none" stroke="#5b5439" stroke-width="0.8"/>
<rect x="357" y="38" width="40" height="63" fill="#756e53"/>
<rect x="357.3" y="38.3" width="39.4" height="62.4" fill="none" stroke="#5b5439" stroke-width="0.6"/>
<circle cx="389.7" cy="71.6" r="2.6" fill="#a2d2c2" stroke="#fff" stroke-width="1"/>
<rect x="372.2" y="79.95" width="20.2" height="1.5" fill="#fff"/>
<rect x="372.2" y="84.65" width="20.2" height="1.5" fill="#fff"/>
<rect x="372.2" y="89.45" width="20.2" height="1.5" fill="#fff"/>
<text x="376.3" y="113" font-size="8" text-anchor="middle" fill="#000" stroke="#000" stroke-width="0.04">Email, Records and Compliance</text>
<text x="376.3" y="123.4" font-size="8" text-anchor="middle" fill="#000" stroke="#000" stroke-width="0.04">Documentation</text>
<rect x="465" y="48" width="63" height="49.2" fill="#fff"/>
<rect x="465" y="48" width="15" height="6.4" fill="#756e53"/>
<rect x="465" y="48" width="15" height="0.8" fill="#5e573f" opacity="0.6"/>
<rect x="481" y="48" width="15" height="6.4" fill="#756e53"/>
<rect x="481" y="48" width="15" height="0.8" fill="#5e573f" opacity="0.6"/>
<rect x="497" y="48" width="14" height="6.4" fill="#756e53"/>
<rect x="497" y="48" width="14" height="0.8" fill="#5e573f" opacity="0.6"/>
<rect x="512" y="48" width="16" height="6.4" fill="#756e53"/>
<rect x="512" y="48" width="16" height="0.8" fill="#5e573f" opacity="0.6"/>
<rect x="465" y="55.1" width="8" height="6.4" fill="#756e53"/>
<rect x="465" y="55.1" width="8" height="0.8" fill="#5e573f" opacity="0.6"/>
<rect x="474" y="55.1" width="14" height="6.4" fill="#756e53"/>
<rect x="474" y="55.1" width="14" height="0.8" fill="#5e573f" opacity="0.6"/>
<rect x="489" y="55.1" width="15" height="6.4" fill="#756e53"/>
<rect x="489" y="55.1" width="15" height="0.8" fill="#5e573f" opacity="0.6"/>
<rect x="505" y="55.1" width="14" height="6.4" fill="#756e53"/>
<rect x="505" y="55.1" width="14" height="0.8" fill="#5e573f" opacity="0.6"/>
<rect x="520" y="55.1" width="8" height="6.4" fill="#756e53"/>
<rect x="520" y="55.1" width="8" height="0.8" fill="#5e573f" opacity="0.6"/>
<rect x="465" y="62.2" width="15" height="6.4" fill="#756e53"/>
<rect x="465" y="62.2" width="15" height="0.8" fill="#5e573f" opacity="0.6"/>
<rect x="481" y="62.2" width="15" height="6.4" fill="#756e53"/>
<rect x="481" y="62.2" width="15" height="0.8" fill="#5e573f" opacity="0.6"/>
<rect x="497" y="62.2" width="14" height="6.4" fill="#756e53"/>
<rect x="497" y="62.2" width="14" height="0.8" fill="#5e573f" opacity="0.6"/>
<rect x="512" y="62.2" width="16" height="6.4" fill="#756e53"/>
<rect x="512" y="62.2" width="16" height="0.8" fill="#5e573f" opacity="0.6"/>
<rect x="465" y="69.3" width="8" height="6.4" fill="#756e53"/>
<rect x="465" y="69.3" width="8" height="0.8" fill="#5e573f" opacity="0.6"/>
<rect x="474" y="69.3" width="14" height="6.4" fill="#756e53"/>
<rect x="474" y="69.3" width="14" height="0.8" fill="#5e573f" opacity="0.6"/>
<rect x="489" y="69.3" width="15" height="6.4" fill="#756e53"/>
<rect x="489" y="69.3" width="15" height="0.8" fill="#5e573f" opacity="0.6"/>
<rect x="505" y="69.3" width="14" height="6.4" fill="#756e53"/>
<rect x="505" y="69.3" width="14" height="0.8" fill="#5e573f" opacity="0.6"/>
<rect x="520" y="69.3" width="8" height="6.4" fill="#756e53"/>
<rect x="520" y="69.3" width="8" height="0.8" fill="#5e573f" opacity="0.6"/>
<rect x="465" y="76.4" width="15" height="6.4" fill="#756e53"/>
<rect x="465" y="76.4" width="15" height="0.8" fill="#5e573f" opacity="0.6"/>
<rect x="481" y="76.4" width="15" height="6.4" fill="#756e53"/>
<rect x="481" y="76.4" width="15" height="0.8" fill="#5e573f" opacity="0.6"/>
<rect x="497" y="76.4" width="14" height="6.4" fill="#756e53"/>
<rect x="497" y="76.4" width="14" height="0.8" fill="#5e573f" opacity="0.6"/>
<rect x="512" y="76.4" width="16" height="6.4" fill="#756e53"/>
<rect x="512" y="76.4" width="16" height="0.8" fill="#5e573f" opacity="0.6"/>
<rect x="465" y="83.5" width="8" height="6.4" fill="#756e53"/>
<rect x="465" y="83.5" width="8" height="0.8" fill="#5e573f" opacity="0.6"/>
<rect x="474" y="83.5" width="14" height="6.4" fill="#756e53"/>
<rect x="474" y="83.5" width="14" height="0.8" fill="#5e573f" opacity="0.6"/>
<rect x="489" y="83.5" width="15" height="6.4" fill="#756e53"/>
<rect x="489" y="83.5" width="15" height="0.8" fill="#5e573f" opacity="0.6"/>
<rect x="505" y="83.5" width="14" height="6.4" fill="#756e53"/>
<rect x="505" y="83.5" width="14" height="0.8" fill="#5e573f" opacity="0.6"/>
<rect x="520" y="83.5" width="8" height="6.4" fill="#756e53"/>
<rect x="520" y="83.5" width="8" height="0.8" fill="#5e573f" opacity="0.6"/>
<rect x="465" y="90.6" width="15" height="6.4" fill="#756e53"/>
<rect x="465" y="90.6" width="15" height="0.8" fill="#5e573f" opacity="0.6"/>
<rect x="481" y="90.6" width="15" height="6.4" fill="#756e53"/>
<rect x="481" y="90.6" width="15" height="0.8" fill="#5e573f" opacity="0.6"/>
<rect x="497" y="90.6" width="14" height="6.4" fill="#756e53"/>
<rect x="497" y="90.6" width="14" height="0.8" fill="#5e573f" opacity="0.6"/>
<rect x="512" y="90.6" width="16" height="6.4" fill="#756e53"/>
<rect x="512" y="90.6" width="16" height="0.8" fill="#5e573f" opacity="0.6"/>
<text x="615.3" y="43.2" font-size="8.3" text-anchor="middle" fill="#000" stroke="#000" stroke-width="0.04">Corporate Router</text>
<rect x="585" y="52.6" width="62" height="24" fill="#756e53"/>
<rect x="585.3" y="52.9" width="61.4" height="23.4" fill="none" stroke="#5b5439" stroke-width="0.6"/>
<path d="M589 79 H643 L642 81 H590 Z" fill="#756e53"/>
<rect x="627.5" y="56.5" width="16" height="16.2" fill="#a2d2c2" stroke="#fff" stroke-width="1"/>
<path d="M591.2 60 h4.6 v2.6 l-1 1 h-2.6 l-1 -1 z" fill="#fff"/>
<path d="M591.2 65.2 h4.6 v2.6 l-1 1 h-2.6 l-1 -1 z" fill="#fff"/>
<path d="M598.2 60 h4.6 v2.6 l-1 1 h-2.6 l-1 -1 z" fill="#fff"/>
<path d="M598.2 65.2 h4.6 v2.6 l-1 1 h-2.6 l-1 -1 z" fill="#fff"/>
<path d="M605.2 60 h4.6 v2.6 l-1 1 h-2.6 l-1 -1 z" fill="#fff"/>
<path d="M605.2 65.2 h4.6 v2.6 l-1 1 h-2.6 l-1 -1 z" fill="#fff"/>
<path d="M612.2 60 h4.6 v2.6 l-1 1 h-2.6 l-1 -1 z" fill="#fff"/>
<path d="M612.2 65.2 h4.6 v2.6 l-1 1 h-2.6 l-1 -1 z" fill="#fff"/>
<path d="M635.5 57.8 l-1.8 2 h1.3 v3 h1 v-3 h1.3 z M635.5 71.2 l-1.8 -2 h1.3 v-3 h1 v3 h1.3 z M634 64.5 l-2 -1.8 v1.3 h-3 v1 h3 v1.3 z M637 64.5 l2 -1.8 v1.3 h3 v1 h-3 v1.3 z" fill="#fff"/>
<rect x="714.7" y="44.2" width="41.7" height="30" fill="#756e53"/>
<path d="M705.6 98.6 V76 Q705.6 73 708.6 73 H762 Q765 73 765 76 V98.6 Z" fill="#756e53"/>
<circle cx="738.5" cy="84.2" r="2.7" fill="#a2d2c2" stroke="#fff" stroke-width="0.8"/>
<circle cx="746.6" cy="84.2" r="2.7" fill="#a2d2c2" stroke="#fff" stroke-width="0.8"/>
<circle cx="754.8" cy="84.2" r="2.7" fill="#a2d2c2" stroke="#fff" stroke-width="0.8"/>
<rect x="714.5" y="91.5" width="42" height="15.6" fill="#756e53" stroke="#fff" stroke-width="1"/>
<rect x="723" y="98.5" width="27" height="1.3" fill="#fff"/>
<text x="735.5" y="119.4" font-size="8.2" text-anchor="middle" fill="#000" stroke="#000" stroke-width="0.04">Network Printer</text>
<path d="M217.2 182 H223.8 L229.6 217.3 H211.9 Z" fill="#756e53"/>
<rect x="219.5" y="172" width="1.7" height="10" fill="#222"/>
<circle cx="220.4" cy="171.4" r="3" fill="#222"/>
<path d="M214.93 165.98 A7.5 7.5 0 0 0 214.93 176.02" stroke="#8fcbb9" stroke-width="1.1" fill="none"/>
<path d="M226.07 165.98 A7.5 7.5 0 0 1 226.07 176.02" stroke="#8fcbb9" stroke-width="1.1" fill="none"/>
<path d="M210.47 161.97 A13.5 13.5 0 0 0 210.47 180.03" stroke="#8fcbb9" stroke-width="1.1" fill="none"/>
<path d="M230.53 161.97 A13.5 13.5 0 0 1 230.53 180.03" stroke="#8fcbb9" stroke-width="1.1" fill="none"/>
<path d="M206.01 157.95 A19.5 19.5 0 0 0 206.01 184.05" stroke="#8fcbb9" stroke-width="1.1" fill="none"/>
<path d="M234.99 157.95 A19.5 19.5 0 0 1 234.99 184.05" stroke="#8fcbb9" stroke-width="1.1" fill="none"/>
<path d="M408.2 217 V247" stroke="#6fb8a8" stroke-width="1" fill="none"/>
<rect x="380.80" y="246.8" width="56.9" height="37.8" fill="#756e53"/>
<rect x="383.30" y="249.8" width="51.4" height="31.7" fill="#93ab4e" stroke="#fff" stroke-width="1"/>
<rect x="404.40" y="284.6" width="7.9" height="6" fill="#756e53"/>
<path d="M386.20 291.4 H430.70 L439.00 302.7 H377.80 Z" fill="#756e53"/>
<rect x="390.60" y="293" width="2.70" height="1.6" fill="#fff"/>
<rect x="394.20" y="293" width="2.70" height="1.6" fill="#fff"/>
<rect x="397.80" y="293" width="2.70" height="1.6" fill="#fff"/>
<rect x="401.40" y="293" width="2.70" height="1.6" fill="#fff"/>
<rect x="405.00" y="293" width="2.70" height="1.6" fill="#fff"/>
<rect x="408.60" y="293" width="2.70" height="1.6" fill="#fff"/>
<rect x="412.20" y="293" width="2.70" height="1.6" fill="#fff"/>
<rect x="415.80" y="293" width="2.70" height="1.6" fill="#fff"/>
<rect x="419.40" y="293" width="2.70" height="1.6" fill="#fff"/>
<rect x="423.00" y="293" width="2.70" height="1.6" fill="#fff"/>
<rect x="388.60" y="296.4" width="2.74" height="1.6" fill="#fff"/>
<rect x="392.24" y="296.4" width="2.74" height="1.6" fill="#fff"/>
<rect x="395.87" y="296.4" width="2.74" height="1.6" fill="#fff"/>
<rect x="399.51" y="296.4" width="2.74" height="1.6" fill="#fff"/>
<rect x="403.15" y="296.4" width="2.74" height="1.6" fill="#fff"/>
<rect x="406.78" y="296.4" width="2.74" height="1.6" fill="#fff"/>
<rect x="410.42" y="296.4" width="2.74" height="1.6" fill="#fff"/>
<rect x="414.05" y="296.4" width="2.74" height="1.6" fill="#fff"/>
<rect x="417.69" y="296.4" width="2.74" height="1.6" fill="#fff"/>
<rect x="421.33" y="296.4" width="2.74" height="1.6" fill="#fff"/>
<rect x="424.96" y="296.4" width="2.74" height="1.6" fill="#fff"/>
<rect x="398.20" y="299.4" width="20.4" height="1.7" fill="#fff"/>
<path d="M560.6 217 V247" stroke="#6fb8a8" stroke-width="1" fill="none"/>
<rect x="533.20" y="246.8" width="56.9" height="37.8" fill="#756e53"/>
<rect x="535.70" y="249.8" width="51.4" height="31.7" fill="#93ab4e" stroke="#fff" stroke-width="1"/>
<rect x="556.80" y="284.6" width="7.9" height="6" fill="#756e53"/>
<path d="M538.60 291.4 H583.10 L591.40 302.7 H530.20 Z" fill="#756e53"/>
<rect x="543.00" y="293" width="2.70" height="1.6" fill="#fff"/>
<rect x="546.60" y="293" width="2.70" height="1.6" fill="#fff"/>
<rect x="550.20" y="293" width="2.70" height="1.6" fill="#fff"/>
<rect x="553.80" y="293" width="2.70" height="1.6" fill="#fff"/>
<rect x="557.40" y="293" width="2.70" height="1.6" fill="#fff"/>
<rect x="561.00" y="293" width="2.70" height="1.6" fill="#fff"/>
<rect x="564.60" y="293" width="2.70" height="1.6" fill="#fff"/>
<rect x="568.20" y="293" width="2.70" height="1.6" fill="#fff"/>
<rect x="571.80" y="293" width="2.70" height="1.6" fill="#fff"/>
<rect x="575.40" y="293" width="2.70" height="1.6" fill="#fff"/>
<rect x="541.00" y="296.4" width="2.74" height="1.6" fill="#fff"/>
<rect x="544.64" y="296.4" width="2.74" height="1.6" fill="#fff"/>
<rect x="548.27" y="296.4" width="2.74" height="1.6" fill="#fff"/>
<rect x="551.91" y="296.4" width="2.74" height="1.6" fill="#fff"/>
<rect x="555.55" y="296.4" width="2.74" height="1.6" fill="#fff"/>
<rect x="559.18" y="296.4" width="2.74" height="1.6" fill="#fff"/>
<rect x="562.82" y="296.4" width="2.74" height="1.6" fill="#fff"/>
<rect x="566.45" y="296.4" width="2.74" height="1.6" fill="#fff"/>
<rect x="570.09" y="296.4" width="2.74" height="1.6" fill="#fff"/>
<rect x="573.73" y="296.4" width="2.74" height="1.6" fill="#fff"/>
<rect x="577.36" y="296.4" width="2.74" height="1.6" fill="#fff"/>
<rect x="550.60" y="299.4" width="20.4" height="1.7" fill="#fff"/>
<path d="M713.1 217 V247" stroke="#6fb8a8" stroke-width="1" fill="none"/>
<rect x="685.70" y="246.8" width="56.9" height="37.8" fill="#756e53"/>
<rect x="688.20" y="249.8" width="51.4" height="31.7" fill="#93ab4e" stroke="#fff" stroke-width="1"/>
<rect x="709.30" y="284.6" width="7.9" height="6" fill="#756e53"/>
<path d="M691.10 291.4 H735.60 L743.90 302.7 H682.70 Z" fill="#756e53"/>
<rect x="695.50" y="293" width="2.70" height="1.6" fill="#fff"/>
<rect x="699.10" y="293" width="2.70" height="1.6" fill="#fff"/>
<rect x="702.70" y="293" width="2.70" height="1.6" fill="#fff"/>
<rect x="706.30" y="293" width="2.70" height="1.6" fill="#fff"/>
<rect x="709.90" y="293" width="2.70" height="1.6" fill="#fff"/>
<rect x="713.50" y="293" width="2.70" height="1.6" fill="#fff"/>
<rect x="717.10" y="293" width="2.70" height="1.6" fill="#fff"/>
<rect x="720.70" y="293" width="2.70" height="1.6" fill="#fff"/>
<rect x="724.30" y="293" width="2.70" height="1.6" fill="#fff"/>
<rect x="727.90" y="293" width="2.70" height="1.6" fill="#fff"/>
<rect x="693.50" y="296.4" width="2.74" height="1.6" fill="#fff"/>
<rect x="697.14" y="296.4" width="2.74" height="1.6" fill="#fff"/>
<rect x="700.77" y="296.4" width="2.74" height="1.6" fill="#fff"/>
<rect x="704.41" y="296.4" width="2.74" height="1.6" fill="#fff"/>
<rect x="708.05" y="296.4" width="2.74" height="1.6" fill="#fff"/>
<rect x="711.68" y="296.4" width="2.74" height="1.6" fill="#fff"/>
<rect x="715.32" y="296.4" width="2.74" height="1.6" fill="#fff"/>
<rect x="718.95" y="296.4" width="2.74" height="1.6" fill="#fff"/>
<rect x="722.59" y="296.4" width="2.74" height="1.6" fill="#fff"/>
<rect x="726.23" y="296.4" width="2.74" height="1.6" fill="#fff"/>
<rect x="729.86" y="296.4" width="2.74" height="1.6" fill="#fff"/>
<rect x="703.10" y="299.4" width="20.4" height="1.7" fill="#fff"/>
</svg>
</body></html>
